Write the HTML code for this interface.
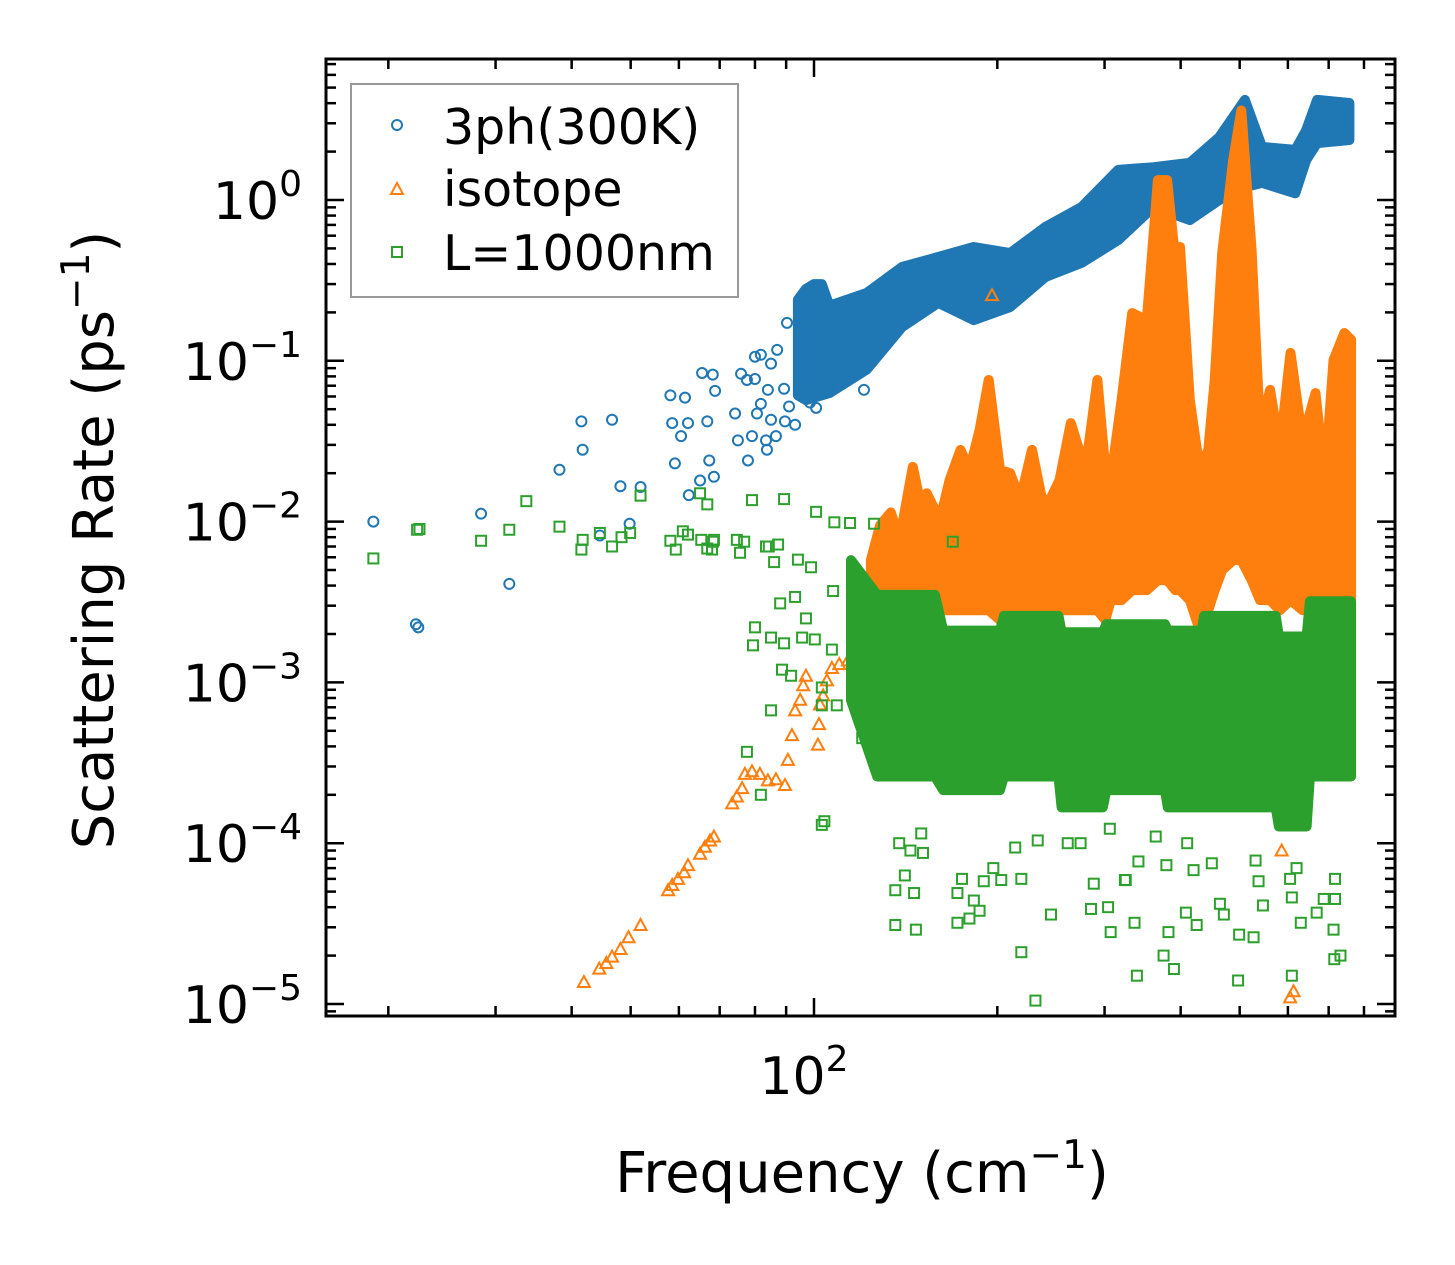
<!DOCTYPE html>
<html><head><meta charset="utf-8"><style>
html,body{margin:0;padding:0;background:#fff;}
svg{display:block;font-family:"DejaVu Sans","Liberation Sans",sans-serif;}
</style></head><body>
<svg id="chart" width="1455" height="1265" viewBox="0 0 1455 1265" xmlns="http://www.w3.org/2000/svg">
<defs><clipPath id="plotclip"><rect x="326" y="59" width="1069" height="957"/></clipPath></defs>
<g id="marks" clip-path="url(#plotclip)"></g>
<rect x="326" y="59" width="1069" height="957" fill="none" stroke="#000" stroke-width="3"/>
<g id="ticks"></g>
<text x="862" y="1192" font-size="56" text-anchor="middle">Frequency (cm<tspan font-size="39" dy="-24">−1</tspan><tspan dy="24">)</tspan></text>
<text transform="translate(113,540) rotate(-90)" font-size="56" text-anchor="middle">Scattering Rate (ps<tspan font-size="39" dy="-24">−1</tspan><tspan dy="24">)</tspan></text>
<g>
<rect x="351" y="84" width="387" height="213" fill="#fff" fill-opacity="0.8" stroke="#999" stroke-width="2"/>
<circle cx="397" cy="125" r="5" fill="none" stroke="#1f77b4" stroke-width="2"/>
<text x="443" y="144" font-size="49">3ph(300K)</text>
<path d="M397,183 L403,194 L391,194 Z" fill="none" stroke="#ff7f0e" stroke-width="2"/>
<text x="443" y="206" font-size="49">isotope</text>
<rect x="392" y="247" width="10" height="10" fill="none" stroke="#2ca02c" stroke-width="2"/>
<text x="443" y="270" font-size="49">L=1000nm</text>
</g>
</svg>
<script>
// ---- data (frequency in cm^-1, rate in ps^-1) ----
const blueFreq=[18.9,28.4,31.6,22.2,22.4,38.2,41.5,41.7,46.6,48.1,51.9,49.8,44.5,58.1,61.4,58.5,62.1,60.5,59.1,65.5,68.2,68.8,66.8,67.3,65.0,68.5,62.3,75.9,77.6,80.0,74.2,81.8,80.6,84.0,89.3,91.0,85.0,89.6,93.1,75.0,79.1,83.4,86.6,83.7,77.9,80.0,81.8,85.0,87.0,90.3,95.9,98.5,100.8,120.8,106];
const blueRate=[0.0100,0.0112,0.0041,0.0023,0.0022,0.021,0.042,0.028,0.043,0.0166,0.0164,0.0097,0.0082,0.061,0.059,0.041,0.041,0.034,0.023,0.084,0.082,0.065,0.042,0.024,0.018,0.019,0.0146,0.083,0.076,0.077,0.047,0.054,0.047,0.066,0.067,0.052,0.043,0.042,0.040,0.032,0.034,0.032,0.034,0.028,0.024,0.106,0.109,0.096,0.117,0.172,0.167,0.055,0.051,0.066,0.069];
const blueBandFreq=[94.1,97,100,103,106,122,139.5,160,183,210,240,275,316,361,414,463,510,544,617,643,670,757];
const blueBandLo=[0.061,0.057,0.059,0.061,0.063,0.088,0.162,0.229,0.179,0.216,0.332,0.406,0.564,0.905,0.75,1.0,1.2,1.28,1.1,1.77,2.26,2.36];
const blueBandHi=[0.24,0.28,0.30,0.30,0.22,0.264,0.383,0.442,0.51,0.468,0.68,0.905,1.54,1.60,1.70,2.46,4.19,2.14,2.05,2.72,4.19,4.01];

const orangeFreq=[41.9,44.4,45.6,46.6,48.1,49.6,51.9,57.6,58.5,59.8,61.2,62.1,65.0,66.2,67.5,68.5,73.4,74.7,76.2,77.0,79.1,81.5,84.0,86.6,89.6,90.6,92.0,93.1,94.9,96.0,97.0,101.5,101.9,102.3,103.5,105,107,110,113.7,117,120,122,196,605,613,244,586];
const orangeRate=[1.37e-5,1.66e-5,1.8e-5,1.97e-5,2.2e-5,2.6e-5,3.1e-5,5.1e-5,5.5e-5,6.0e-5,6.6e-5,7.3e-5,8.6e-5,9.5e-5,1.04e-4,1.1e-4,1.77e-4,1.95e-4,2.2e-4,2.7e-4,2.8e-4,2.7e-4,2.46e-4,2.5e-4,2.3e-4,3.3e-4,4.7e-4,6.7e-4,7.8e-4,9.6e-4,1.1e-3,4.1e-4,5.5e-4,7.3e-4,8.3e-4,1.03e-3,1.23e-3,1.3e-3,1.37e-3,1.55e-3,1.6e-3,1.83e-3,0.256,1.1e-5,1.2e-5,3.4e-4,9e-5];
const orangeBandFreq=[124,128.4,133.7,138.2,145.3,149.2,153.2,161,167,174,180,187,193.6,202,210,218,228,237,244,253,264,279,292,301,307,320,333,352,367,380,392,399,414,430,444,455,468,488,503,523,540,561,582,606,634,666,690,713,743,762];
const orangeBandHi=[0.00576,0.0095,0.0114,0.0077,0.0219,0.0136,0.0150,0.0102,0.0181,0.0279,0.0209,0.0371,0.076,0.0209,0.020,0.0136,0.0279,0.0136,0.0136,0.0181,0.041,0.0209,0.076,0.0209,0.0181,0.0571,0.198,0.179,1.33,1.33,0.423,0.51,0.0571,0.0209,0.0279,0.076,0.468,1.77,3.6,0.489,0.0371,0.0659,0.0279,0.112,0.0322,0.063,0.0181,0.101,0.149,0.135];
const orangeBandLo=[0.00137,0.00183,0.00244,0.00244,0.00281,0.00281,0.00281,0.00281,0.00281,0.00281,0.00281,0.00281,0.00281,0.00244,0.00281,0.00244,0.00281,0.00244,0.00281,0.00281,0.00281,0.00281,0.00281,0.00244,0.00325,0.00325,0.00375,0.00375,0.00433,0.00433,0.00375,0.00375,0.00325,0.00211,0.00281,0.00375,0.005,0.00576,0.00576,0.00433,0.00325,0.00325,0.00281,0.00325,0.00281,0.00325,0.00281,0.00325,0.00325,0.00325];

const greenFreq=[136,146,136,147,141,172,180,187,183,172,219,231,245,288,285,304,307,324,336,339,375,390,382,425,408,471,499,527,497,609,630,609,669,713,715,732,687,717,546,464,420,379,341,325,274,261,233,214,203,219,190,197,175,150,151,138,144,450,531,605,717,620,537,410,364,306,103,104,85.0,77.6,81.8,88.6,91.7,80.0,79.4,85.0,89.3,95.6,100.3,93.1,88.0,97.0,83.4,87.3,75.6,76.8,68.3,66.8,66.8,79.1,89.3,100.8,108,114.6,125.5,94.1,98.9,107.5,127,120,123,169,109,103,107,103,18.9,22.3,22.5,28.4,31.6,33.7,38.2,41.7,41.5,44.5,46.6,48.3,49.9,51.9,58.1,59.3,60.9,62.1,65.3,65.0,68.0,68.5,74.7,84.3,86.0];
const greenRate=[5.1e-5,4.9e-5,3.1e-5,2.9e-5,6.3e-5,3.2e-5,3.4e-5,3.8e-5,4.4e-5,4.9e-5,2.1e-5,1.05e-5,3.6e-5,5.6e-5,3.9e-5,4.0e-5,2.8e-5,5.9e-5,3.2e-5,1.5e-5,2.0e-5,1.65e-5,2.8e-5,3.1e-5,3.7e-5,3.6e-5,2.7e-5,2.6e-5,1.4e-5,1.5e-5,3.2e-5,4.6e-5,3.7e-5,2.9e-5,1.9e-5,2.0e-5,4.5e-5,4.5e-5,4.1e-5,4.2e-5,6.8e-5,7.3e-5,7.7e-5,5.9e-5,1.0e-4,1.0e-4,1.04e-4,9.4e-5,5.9e-5,6.0e-5,5.8e-5,7.0e-5,6.0e-5,1.15e-4,8.7e-5,1.0e-4,9.0e-5,7.5e-5,7.8e-5,6.0e-5,6.0e-5,7.0e-5,5.8e-5,1.0e-4,1.1e-4,1.23e-4,1.3e-4,1.37e-4,6.7e-4,3.7e-4,2.0e-4,1.2e-3,1.1e-3,2.2e-3,1.7e-3,1.9e-3,1.75e-3,1.9e-3,1.85e-3,3.4e-3,3.1e-3,2.5e-3,7.0e-3,7.2e-3,6.4e-3,7.5e-3,7.5e-3,6.8e-3,0.0128,0.0136,0.0138,0.0115,0.0099,0.0098,0.0097,5.8e-3,5.2e-3,3.7e-3,4.5e-4,4.5e-4,6.1e-4,7.5e-3,7.2e-4,7.2e-4,1.6e-3,9.3e-4,5.9e-3,8.9e-3,9.0e-3,7.6e-3,8.9e-3,0.0134,9.3e-3,7.7e-3,6.7e-3,8.5e-3,7.0e-3,8.0e-3,8.5e-3,0.0145,7.6e-3,6.7e-3,8.7e-3,8.3e-3,7.7e-3,0.015,6.7e-3,7.7e-3,7.7e-3,7.0e-3,5.6e-3];
const greenBandFreq=[115,127,158,163,202,205,252,255,298,302,377,381,433,437,573,580,644,652,762];
const greenBandHi=[0.00576,0.0035,0.0035,0.0021,0.0021,0.00259,0.00259,0.00205,0.00205,0.0023,0.0023,0.0021,0.0021,0.00259,0.00259,0.00193,0.00193,0.0032,0.0032];
const greenBandLo=[0.000775,0.00026,0.00026,0.000214,0.000214,0.00026,0.00026,0.000167,0.000167,0.000214,0.000214,0.000167,0.000167,0.000167,0.000167,0.000127,0.000127,0.00026,0.00026];

const xMajorTicks=[100];
const xMinorTicks=[20,30,40,50,60,70,80,90,200,300,400,500,600,700,800,900];
const yExponents=[0,-1,-2,-3,-4,-5];
const yTickLabels=["0","−1","−2","−3","−4","−5"];

// ---- axes ----
const X0=814,PXD_X=609,Y0=200,PXD_Y=160.8;
function xScale(f){return X0+PXD_X*Math.log10(f/100);}
function yScale(r){return Y0-PXD_Y*Math.log10(r);}
const NS="http://www.w3.org/2000/svg";
const marks=document.getElementById('marks');
const ticks=document.getElementById('ticks');
function mk(tag,attrs,parent){const e=document.createElementNS(NS,tag);for(const k in attrs)e.setAttribute(k,attrs[k]);parent.appendChild(e);return e;}

function drawBand(freqs,lo,hi,color,name){
  let pts=[];
  for(let i=0;i<freqs.length;i++)pts.push(xScale(freqs[i]).toFixed(1)+','+yScale(hi[i]).toFixed(1));
  for(let i=freqs.length-1;i>=0;i--)pts.push(xScale(freqs[i]).toFixed(1)+','+yScale(lo[i]).toFixed(1));
  const p=mk('polygon',{points:pts.join(' '),fill:color,stroke:color,'stroke-width':10,'stroke-linejoin':'round'},marks);
  
  
}
function drawCircle(f,r,name){
  const c=mk('circle',{cx:xScale(f),cy:yScale(r),r:5,fill:'none',stroke:'#1f77b4','stroke-width':2},marks);
  
  
}
function drawTri(f,r,name){
  const x=xScale(f),y=yScale(r);
  const t=mk('path',{d:`M${x},${y-6} L${x+6},${y+5} L${x-6},${y+5} Z`,fill:'none',stroke:'#ff7f0e','stroke-width':2},marks);
  
  
}
function drawSq(f,r,name){
  const x=xScale(f),y=yScale(r);
  const s=mk('rect',{x:x-5,y:y-5,width:10,height:10,fill:'none',stroke:'#2ca02c','stroke-width':2},marks);
  
  
}

drawBand(blueBandFreq,blueBandLo,blueBandHi,'#1f77b4','3ph-dense-band');
for(let i=0;i<blueFreq.length;i++)drawCircle(blueFreq[i],blueRate[i],'3ph-point');
drawBand(orangeBandFreq,orangeBandLo,orangeBandHi,'#ff7f0e','isotope-dense-band');
for(let i=0;i<orangeFreq.length;i++)drawTri(orangeFreq[i],orangeRate[i],'isotope-point');
drawBand(greenBandFreq,greenBandLo,greenBandHi,'#2ca02c','boundary-dense-band');
for(let i=0;i<greenFreq.length;i++)drawSq(greenFreq[i],greenRate[i],'boundary-point');

// ---- ticks ----
const TOP=59,BOT=1016,LEFT=326,RIGHT=1395;
function xtick(f,len){
  const x=xScale(f);
  const a=mk('line',{x1:x,x2:x,y1:BOT,y2:BOT-len,stroke:'#000','stroke-width':2.5},ticks);
  
  
  const b=mk('line',{x1:x,x2:x,y1:TOP,y2:TOP+len,stroke:'#000','stroke-width':2.5},ticks);
  
  
}
xMinorTicks.forEach(f=>xtick(f,10));
xMajorTicks.forEach(f=>{
  xtick(f,18);
  const t=mk('text',{x:xScale(f)-10,y:1094,'font-size':52,'text-anchor':'middle'},ticks);
  
  
  t.innerHTML='10<tspan font-size="36" dy="-23">2</tspan>';
});
function ytick(r,len){
  const y=yScale(r);
  if(y<TOP||y>BOT)return;
  const a=mk('line',{x1:LEFT,x2:LEFT+len,y1:y,y2:y,stroke:'#000','stroke-width':2.5},ticks);
  
  
  const b=mk('line',{x1:RIGHT,x2:RIGHT-len,y1:y,y2:y,stroke:'#000','stroke-width':2.5},ticks);
  
  
}
for(let e=-6;e<=1;e++){for(let m=2;m<=9;m++)ytick(m*Math.pow(10,e),10);}
yExponents.forEach((e,i)=>{
  ytick(Math.pow(10,e),18);
  const t=mk('text',{x:302,y:yScale(Math.pow(10,e))+19,'font-size':52,'text-anchor':'end'},ticks);
  
  
  t.innerHTML='10<tspan font-size="36" dy="-23">'+yTickLabels[i]+'</tspan>';
});
</script>
</body></html>
